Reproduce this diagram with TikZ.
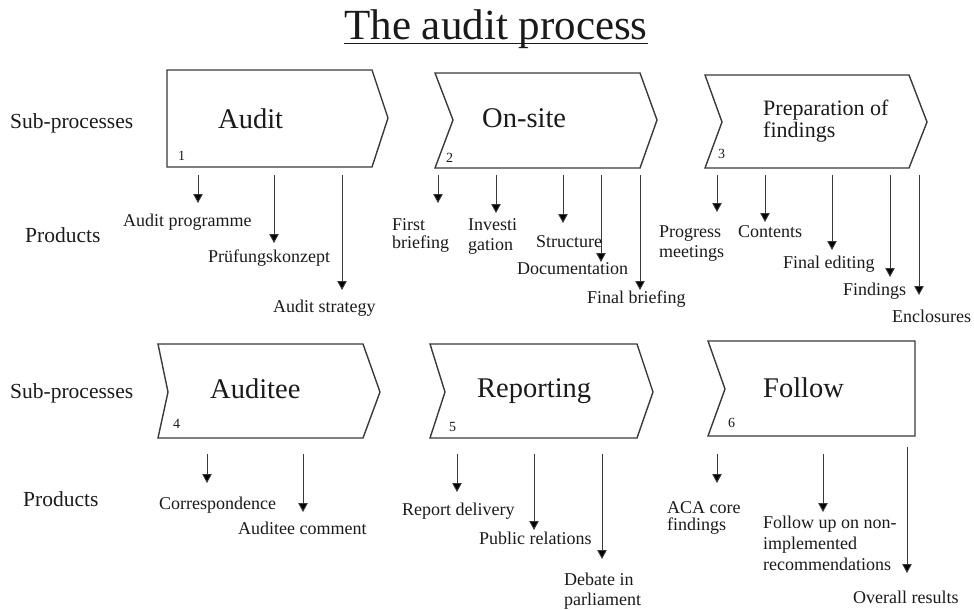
\documentclass[tikz,border=0pt]{standalone}
\usepackage{fontspec}
\setmainfont{Liberation Serif}
\usetikzlibrary{arrows.meta}
\definecolor{ink}{HTML}{1A1A1A}
\definecolor{edge}{HTML}{3A3A3A}
\tikzset{
  chev/.style={draw=edge, line width=1.4pt, line join=miter, fill=white},
  arr/.style={draw=edge, line width=0.9pt, -{Triangle[width=9.5pt,length=9pt,fill=black]}},
  rowlab/.style={font=\fontsize{21.5}{24}\selectfont, text=ink, inner sep=0, anchor=base west},
  proclab/.style={font=\fontsize{28.5}{32}\selectfont, text=ink, inner sep=0, anchor=base west},
  numlab/.style={font=\fontsize{14}{16}\selectfont, text=ink, inner sep=0, anchor=base west},
  prod/.style={font=\fontsize{18}{20}\selectfont, text=ink, inner sep=0, anchor=base west, align=left},
}
\begin{document}
\begin{tikzpicture}[x=1pt, y=-1pt]
\useasboundingbox (0,0) rectangle (974,610);
% title
\node[font=\fontsize{43}{48}\selectfont, text=ink, inner sep=0, anchor=base] (title) at (496,40) {The audit process};
\draw[ink, line width=1.5pt] ([yshift=-3.5pt]title.base west) -- ([yshift=-3.5pt]title.base east);
% row labels
\node[rowlab] (sp1) at (10,128) {Sub-processes};
\node[rowlab] (pr1) at (25,242) {Products};
\node[rowlab] (sp2) at (10,398) {Sub-processes};
\node[rowlab] (pr2) at (23,506) {Products};
% chevrons
\draw[chev] (167,70) -- (372,70) -- (388,118) -- (372,167) -- (167,167) -- cycle;
\draw[chev] (435,73) -- (640,73) -- (657,120) -- (640,168) -- (435,168) -- (453,120) -- cycle;
\draw[chev] (705,75) -- (909,75) -- (927,122) -- (909,168) -- (705,168) -- (722,122) -- cycle;
\draw[chev] (158,344) -- (363,344) -- (380,392) -- (363,438) -- (158,438) -- (168,392) -- cycle;
\draw[chev] (430,344) -- (637,344) -- (653,392) -- (637,438) -- (430,438) -- (445,392) -- cycle;
\draw[chev] (708,341) -- (915,341) -- (915,436) -- (708,436) -- (725,389) -- cycle;
% process names
\node[proclab] (p1) at (218,128) {Audit};
\node[proclab] (p2) at (482,127) {On-site};
\node[font=\fontsize{22}{22}\selectfont, text=ink, inner sep=0, anchor=base west, align=left] (p3) at (763,137) {Preparation of\\findings};
\node[proclab] (p4) at (210,398) {Auditee};
\node[proclab] (p5) at (477,397) {Reporting};
\node[proclab] (p6) at (763,397) {Follow};
% numbers
\node[numlab] (n1) at (178,160) {1};
\node[numlab] (n2) at (446,162) {2};
\node[numlab] (n3) at (718,158) {3};
\node[numlab] (n4) at (173,428) {4};
\node[numlab] (n5) at (449,431) {5};
\node[numlab] (n6) at (728,427) {6};
% arrows
\foreach \i/\x/\ya/\yb in {
  a1/198/175/203, a2/274/175/243, a3/342/175/290,
  b1/438/175/203, b2/496/175/213, b3/563/175/223, b4/601/175/262, b5/640/175/290,
  c1/717/175/212, c2/765/175/222, c3/832/175/250, c4/890/175/277, c5/919/175/295,
  d1/207/454/483, d2/303/454/512,
  e1/457/454/492, e2/534/454/530, e3/602/454/559,
  f1/717/454/483, f2/823/454/512, f3/907/447/573}{
  \coordinate (s\i) at (\x,\ya);
  \coordinate (t\i) at (\x,\yb);
  \draw[arr] (s\i) -- (t\i);
}
% products
\node[prod] (q1) at (123,226) {Audit programme};
\node[prod] (q2) at (208,262) {Prüfungskonzept};
\node[prod] (q3) at (273,312) {Audit strategy};
\node[prod, font=\fontsize{18}{18}\selectfont] (q4) at (392,248) {First\\briefing};
\node[prod] (q5) at (468,250) {Investi\\gation};
\node[prod] (q6) at (536,247) {Structure};
\node[prod] (q7) at (517,274) {Documentation};
\node[prod] (q8) at (587,303) {Final briefing};
\node[prod] (q9) at (659,257) {Progress\\meetings};
\node[prod] (q10) at (738,237) {Contents};
\node[prod] (q11) at (783,268) {Final editing};
\node[prod] (q12) at (843,295) {Findings};
\node[prod] (q13) at (892,322) {Enclosures};
\node[prod] (r1) at (159,509) {Correspondence};
\node[prod] (r2) at (238,534) {Auditee comment};
\node[prod] (r3) at (402,515) {Report delivery};
\node[prod] (r4) at (479,544) {Public relations};
\node[prod] (r5) at (564,605) {Debate in\\parliament};
\node[prod, font=\fontsize{18}{17}\selectfont] (r6) at (667,530) {ACA core\\findings};
\node[prod, font=\fontsize{18}{21}\selectfont] (r7) at (763,570) {Follow up on non-\\implemented\\recommendations};
\node[prod] (r8) at (853,603) {Overall results};
\end{tikzpicture}
\end{document}
